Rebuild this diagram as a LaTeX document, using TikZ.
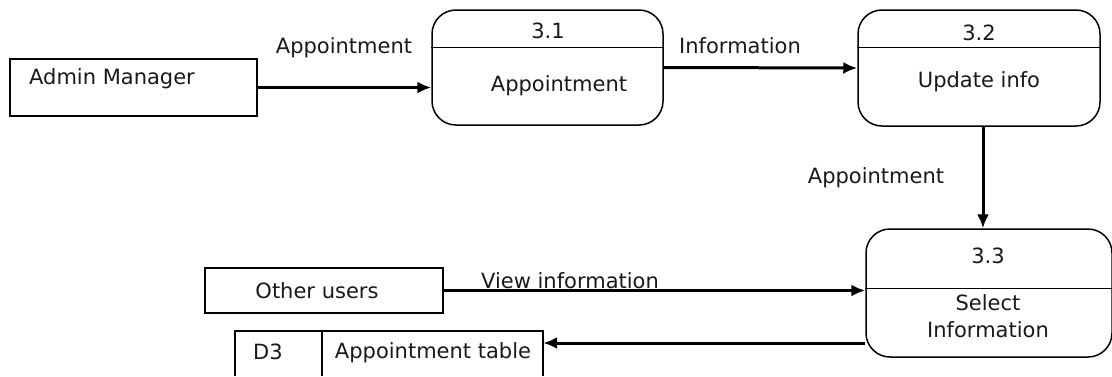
\documentclass[tikz,border=0pt]{standalone}
\usepackage{fontspec}
\setmainfont{DejaVu Sans}
\usetikzlibrary{calc,arrows.meta}
\begin{document}
\begin{tikzpicture}[x=1pt,y=-1pt,
  every node/.style={font=\fontsize{21}{27}\selectfont, text=black!90, inner sep=0pt},
  entity/.style={draw, line width=1.5pt, minimum width=#1, rectangle},
  proc/.style={draw, line width=1.5pt, rounded corners=24pt, rectangle},
  flow/.style={line width=3pt, -{Latex[length=14pt,width=12pt]}},
  thin/.style={line width=1.5pt}]
\useasboundingbox (0,0) rectangle (1112,376);
% entities
\node[entity=247pt, minimum height=57pt] (admin) at (133.5,87.5) {};
\node[anchor=west] (admintxt) at (29,79) {Admin Manager};
\node[entity=238pt, minimum height=45pt] (other) at (324,290.5) {};
\node (othertxt) at (317,291) {Other users};
% processes
\node[proc, minimum width=231pt, minimum height=115pt] (p1) at (547.5,67.5) {};
\draw[thin] ($(p1.north west)+(0,38)$) -- ($(p1.north east)+(0,38)$);
\node (p1n) at (548,31) {3.1};
\node (p1t) at (559,86) {Appointment};
\node[proc, minimum width=242pt, minimum height=116pt] (p2) at (979,68) {};
\draw[thin] ($(p2.north west)+(0,38)$) -- ($(p2.north east)+(0,38)$);
\node (p2n) at (979,33) {3.2};
\node (p2t) at (979,82) {Update info};
\node[proc, minimum width=246pt, minimum height=128pt] (p3) at (989,293) {};
\draw[thin] ($(p3.north west)+(0,60)$) -- ($(p3.north east)+(0,60)$);
\node (p3n) at (988,256) {3.3};
\node[align=center] (p3t) at (988,316) {Select\\Information};
% data store
\node[minimum width=308pt, minimum height=45pt] (d3) at (389,353.5) {};
\draw[thin] (d3.south west) -- (d3.north west) -- (d3.north east) -- (d3.south east);
\draw[thin] (322,331) -- (322,376);
\node (d3id) at (268,352) {D3};
\node (d3t) at (433,353) {Appointment table};
% flows
\draw[flow] (admin.east) -- (admin.east -| p1.west);
\node (l1) at (344,48) {Appointment};
\draw[flow] (p1.east) -- (p2.west);
\node (l2) at (740,46) {Information};
\draw[flow] ([xshift=4pt]p2.south) -- ([xshift=4pt]p2.south |- p3.north);
\node (l3) at (876,178) {Appointment};
\draw[flow] (other.east) -- (other.east -| p3.west);
\node (l4) at (570,281) {View information};
\draw[flow] ([yshift=-50pt]p3.west) -- ([yshift=-50pt]p3.west -| d3.east);
\end{tikzpicture}
\end{document}
